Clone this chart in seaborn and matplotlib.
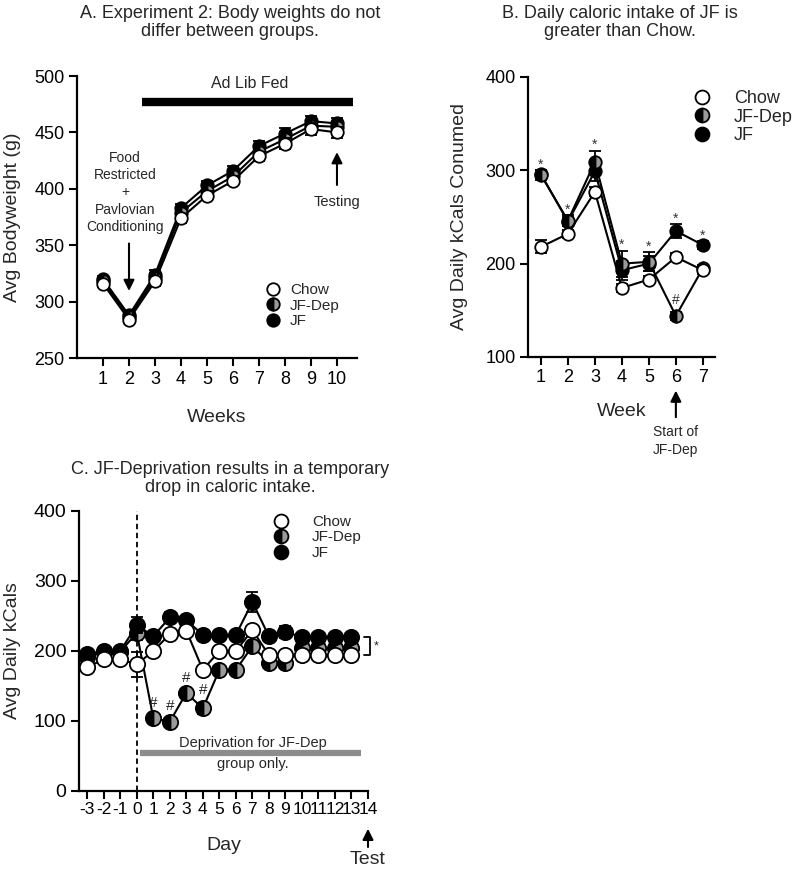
import matplotlib
matplotlib.use("Agg")
import matplotlib.pyplot as plt
from matplotlib.lines import Line2D
import seaborn as sns

# Panel A - body weights (g)
weeks = [1, 2, 3, 4, 5, 6, 7, 8, 9, 10]
bw_chow = [316, 284, 318, 374, 394, 407, 429, 440, 453, 450]
bw_jfdep = [318, 286, 321, 379, 398, 411, 433, 444, 456, 455]
bw_jf = [320, 288, 324, 383, 403, 416, 438, 449, 460, 458]
bw_sem = [3, 3, 4, 4, 4, 4, 4, 5, 5, 5]

# Panel B - avg daily kcals per week
weeks_b = [1, 2, 3, 4, 5, 6, 7]
kc_chow = [218, 232, 277, 174, 183, 207, 193]
kc_jfdep = [295, 246, 309, 200, 202, 144, 195]
kc_jf = [296, 245, 299, 193, 200, 235, 220]
kc_chow_sem = [7, 4, 5, 4, 4, 4, 4]
kc_jfdep_sem = [5, 6, 12, 14, 10, 4, 4]
kc_jf_sem = [4, 5, 10, 10, 8, 7, 4]
star_weeks_b = [1, 2, 3, 4, 5, 6, 7]
hash_weeks_b = [6]

# Panel C - avg daily kcals per day
days = [-3, -2, -1, 0, 1, 2, 3, 4, 5, 6, 7, 8, 9, 10, 11, 12, 13]
day_ticks = list(range(-3, 15))
dc_chow = [177, 188, 188, 181, 200, 224, 229, 173, 200, 200, 230, 194, 194, 194, 194, 194, 194]
dc_jfdep = [191, 199, 199, 226, 104, 99, 140, 118, 173, 173, 207, 183, 183, 204, 204, 204, 204]
dc_jf = [196, 200, 200, 237, 221, 248, 244, 223, 223, 223, 270, 221, 227, 220, 220, 220, 220]
dc_chow_sem = [4, 4, 4, 18, 4, 4, 8, 4, 4, 4, 4, 4, 4, 4, 4, 4, 4]
dc_jfdep_sem = [4, 4, 4, 10, 4, 4, 4, 8, 4, 4, 4, 4, 4, 4, 4, 4, 4]
dc_jf_sem = [3, 3, 3, 12, 3, 8, 3, 3, 3, 3, 14, 3, 8, 3, 3, 3, 3]
hash_days = [1, 2, 3, 4]

sns.set_theme(style="ticks")
plt.rcParams["font.family"] = ["Liberation Sans", "DejaVu Sans"]
plt.rcParams["axes.unicode_minus"] = False

CHOW = dict(markerfacecolor="white")
JFDEP = dict(markerfacecolor="black", fillstyle="left", markerfacecoloralt="#9a9a9a")
JF = dict(markerfacecolor="black")


def draw_group(ax, x, y, sem, style, ms, z):
    ax.errorbar(x, y, yerr=sem, fmt="none", ecolor="black", elinewidth=1.3,
                capsize=4, capthick=1.3, zorder=z)
    sns.lineplot(x=x, y=y, ax=ax, color="black", linewidth=1.5, marker="o",
                 markersize=ms, markeredgecolor="black", markeredgewidth=1.3,
                 errorbar=None, zorder=z + 0.5, **style)


def style_axes(ax, labelsize):
    sns.despine(ax=ax)
    for side in ["left", "bottom"]:
        ax.spines[side].set_linewidth(1.6)
        ax.spines[side].set_color("black")
    ax.tick_params(direction="out", length=6, width=1.5, labelsize=labelsize,
                   colors="black", pad=3)


def add_legend(ax, ms, fontsize, anchor, pad):
    handles = [Line2D([], [], ls="none", marker="o", ms=ms, mec="black", mew=1.3, **s)
               for s in (CHOW, JFDEP, JF)]
    ax.legend(handles, ["Chow", "JF-Dep", "JF"], loc="upper left", bbox_to_anchor=anchor,
              frameon=False, fontsize=fontsize, handlelength=1.0, handletextpad=pad,
              labelspacing=0.1, borderpad=0, borderaxespad=0)


fig = plt.figure(figsize=(8, 8.72), dpi=100)
ax_a = fig.add_axes([0.09625, 0.5894, 0.35, 0.3234])
ax_b = fig.add_axes([0.66, 0.5906, 0.23375, 0.3211])
ax_c = fig.add_axes([0.09875, 0.0929, 0.36125, 0.3211])

# ---- Panel A ----
draw_group(ax_a, weeks, bw_jf, bw_sem, JF, 9, 2)
draw_group(ax_a, weeks, bw_jfdep, bw_sem, JFDEP, 9, 3)
draw_group(ax_a, weeks, bw_chow, bw_sem, CHOW, 9, 4)
ax_a.set_xlim(0, 10.77)
ax_a.set_ylim(250, 500)
ax_a.set_xticks(weeks)
ax_a.set_yticks(range(250, 501, 50))
style_axes(ax_a, 13)
ax_a.set_xlabel("Weeks", fontsize=14)
ax_a.set_ylabel("Avg Bodyweight (g)", fontsize=14)
ax_a.xaxis.set_label_coords(0.5, -0.18)
ax_a.yaxis.set_label_coords(-0.2, 0.5)
ax_a.plot([2.5, 10.6], [477, 477], color="black", lw=6, solid_capstyle="butt", clip_on=False)
ax_a.text(6.65, 493, "Ad Lib Fed", ha="center", va="center", fontsize=11.5)
ax_a.text(1.85, 397, "Food\nRestricted\n+\nPavlovian\nConditioning", ha="center",
          va="center", fontsize=10, linespacing=1.3)
ax_a.annotate("", xy=(2, 307), xytext=(2, 354),
              arrowprops=dict(arrowstyle="-|>", color="black", lw=1.5, mutation_scale=16))
ax_a.annotate("", xy=(10, 435), xytext=(10, 401),
              arrowprops=dict(arrowstyle="-|>", color="black", lw=1.5, mutation_scale=16))
ax_a.text(10, 388, "Testing", ha="center", va="center", fontsize=10.5)
add_legend(ax_a, 9, 11, (0.673, 0.266), 0.6)

# ---- Panel B ----
draw_group(ax_b, weeks_b, kc_jf, kc_jf_sem, JF, 9, 2)
draw_group(ax_b, weeks_b, kc_jfdep, kc_jfdep_sem, JFDEP, 9, 3)
draw_group(ax_b, weeks_b, kc_chow, kc_chow_sem, CHOW, 9, 4)
ax_b.set_xlim(0.52, 7.45)
ax_b.set_ylim(100, 400)
ax_b.set_xticks(weeks_b)
ax_b.set_yticks([100, 200, 300, 400])
style_axes(ax_b, 13)
ax_b.set_xlabel("Week", fontsize=14)
ax_b.set_ylabel("Avg Daily kCals Conumed", fontsize=14)
ax_b.xaxis.set_label_coords(0.5, -0.165)
ax_b.yaxis.set_label_coords(-0.32, 0.5)
for w in star_weeks_b:
    i = weeks_b.index(w)
    top = max(kc_jf[i] + kc_jf_sem[i], kc_jfdep[i] + kc_jfdep_sem[i])
    ax_b.text(w, top + 6, "*", ha="center", va="center", fontsize=10, color="#333333")
for w in hash_weeks_b:
    i = weeks_b.index(w)
    ax_b.text(w, kc_jfdep[i] + 17, "#", ha="center", va="center", fontsize=10, color="#333333")
ax_b.annotate("", xy=(6, -0.11), xytext=(6, -0.225), xycoords=ax_b.get_xaxis_transform(),
              arrowprops=dict(arrowstyle="-|>", color="black", lw=1.5, mutation_scale=16),
              annotation_clip=False)
ax_b.text(6, -0.3, "Start of\nJF-Dep", transform=ax_b.get_xaxis_transform(), ha="center",
          va="center", fontsize=10, linespacing=1.3)
add_legend(ax_b, 10, 13, (0.88, 0.954), 1.3)

# ---- Panel C ----
draw_group(ax_c, days, dc_jfdep, dc_jfdep_sem, JFDEP, 11, 2)
draw_group(ax_c, days, dc_jf, dc_jf_sem, JF, 11, 3)
draw_group(ax_c, days, dc_chow, dc_chow_sem, CHOW, 11, 4)
ax_c.set_xlim(-3.5, 14)
ax_c.set_ylim(0, 400)
ax_c.set_xticks(day_ticks)
ax_c.set_xticklabels([str(d) for d in day_ticks])
ax_c.set_yticks([0, 100, 200, 300, 400])
style_axes(ax_c, 14)
ax_c.tick_params(axis="x", pad=2, labelsize=12.5)
ax_c.set_xlabel("Day", fontsize=14)
ax_c.set_ylabel("Avg Daily kCals", fontsize=14)
ax_c.xaxis.set_label_coords(0.5, -0.165)
ax_c.yaxis.set_label_coords(-0.2, 0.5)
ax_c.axvline(0, ymin=0, ymax=1, color="black", lw=1.3, ls=(0, (3, 2)), zorder=1)
ax_c.plot([0.2, 13.6], [54, 54], color="#8c8c8c", lw=4.5, solid_capstyle="butt")
ax_c.text(7.0, 69, "Deprivation for JF-Dep", ha="center", va="center", fontsize=10.5)
ax_c.text(7.0, 39, "group only.", ha="center", va="center", fontsize=10.5)
for d in hash_days:
    i = days.index(d)
    ax_c.text(d, dc_jfdep[i] + dc_jfdep_sem[i] + 18, "#", ha="center", va="center", fontsize=11)
top, bot = dc_jf[-1], dc_chow[-1]
ax_c.plot([13.75, 14.15, 14.15, 13.75], [top, top, bot, bot], color="black", lw=1.3,
          clip_on=False)
ax_c.text(14.35, (top + bot) / 2, "*", ha="left", va="center", fontsize=9)
ax_c.annotate("", xy=(14, -0.125), xytext=(14, -0.21), xycoords=ax_c.get_xaxis_transform(),
              arrowprops=dict(arrowstyle="-|>", color="black", lw=1.5, mutation_scale=16),
              annotation_clip=False)
ax_c.text(14, -0.246, "Test", transform=ax_c.get_xaxis_transform(), ha="center",
          va="center", fontsize=14)
add_legend(ax_c, 10, 11, (0.674, 0.986), 1.5)

fig.text(230 / 800, 1 - 22.5 / 872, "A. Experiment 2: Body weights do not\ndiffer between groups.",
         ha="center", va="center", fontsize=13, linespacing=1.15)
fig.text(620 / 800, 1 - 22.5 / 872, "B. Daily caloric intake of JF is\ngreater than Chow.",
         ha="center", va="center", fontsize=13, linespacing=1.15)
fig.text(230 / 800, 1 - 478.5 / 872,
         "C. JF-Deprivation results in a temporary\ndrop in caloric intake.",
         ha="center", va="center", fontsize=13, linespacing=1.15)

fig.savefig("out.png", dpi=100)
